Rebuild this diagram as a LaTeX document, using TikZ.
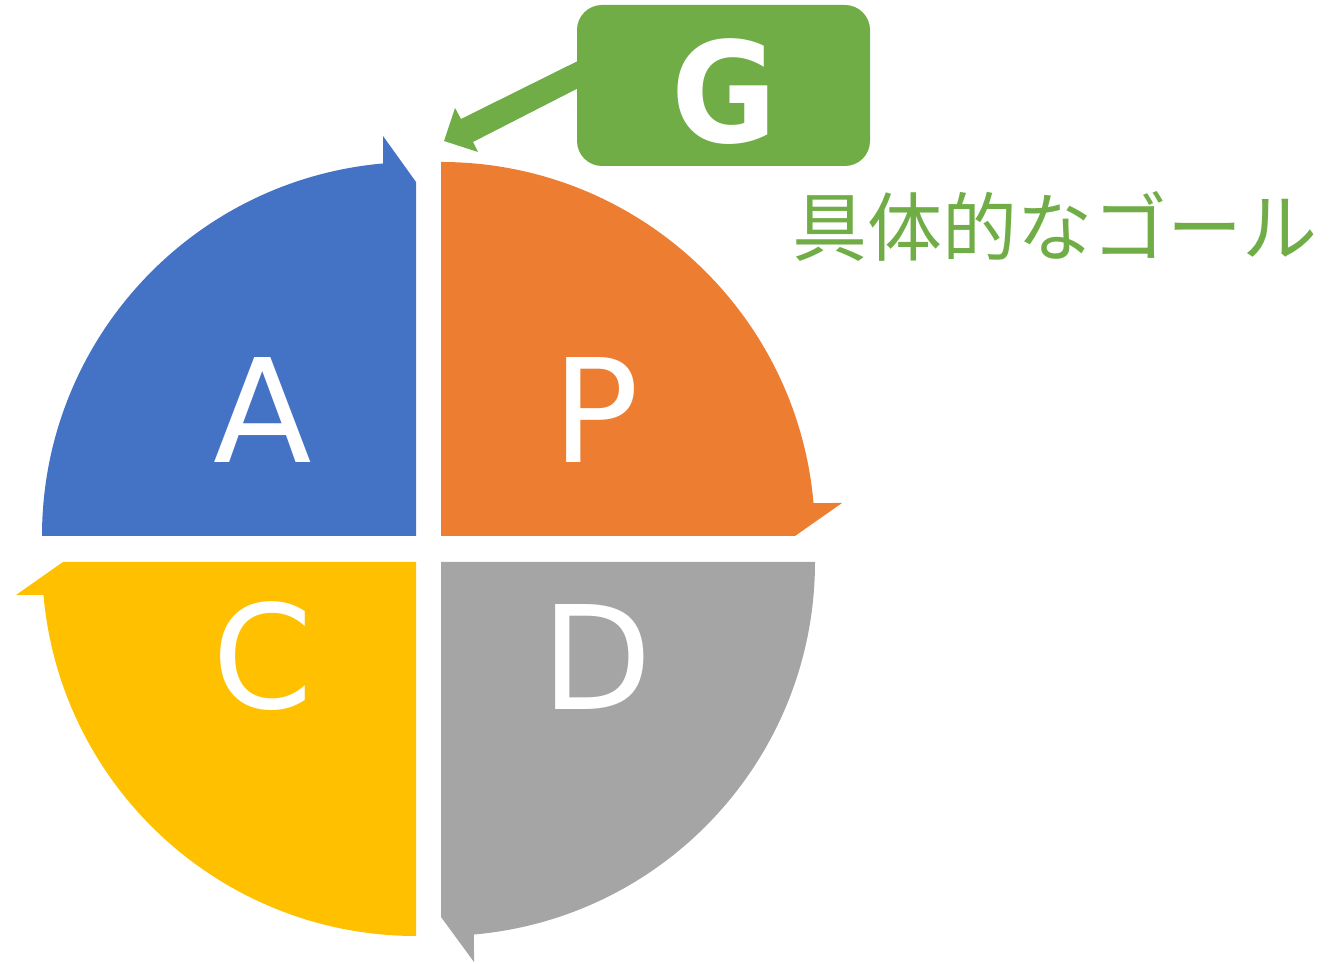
\documentclass[tikz,border=0pt]{standalone}
\usepackage{fontspec}
\setmainfont{DejaVu Sans}
\newfontfamily\jpfont{Noto Sans CJK JP}
\newfontfamily\gfont[FakeStretch=0.92]{DejaVu Sans Bold}
\definecolor{cblue}{HTML}{4472C4}
\definecolor{corange}{HTML}{ED7D31}
\definecolor{cgray}{HTML}{A5A5A5}
\definecolor{cyellow}{HTML}{FFC000}
\definecolor{cgreen}{HTML}{70AD47}
\begin{document}
\begin{tikzpicture}[x=1pt,y=1pt,
  letter/.style={text=white,inner sep=0pt,font=\fontsize{144}{144}\selectfont},
  gbox/.style={fill=cgreen,rounded corners=25pt,minimum width=293pt,minimum height=161pt,inner sep=0pt}]
\useasboundingbox (0,0) rectangle (1337,963);
% quadrant arrows
\fill[cblue] (42,427) arc[start angle=180,end angle=95.06,radius=374pt] -- (383,827) -- (416,781) -- (416,427) -- cycle;
\fill[corange] (441,801) arc[start angle=90,end angle=5.06,radius=374pt] -- (842,460) -- (795,427) -- (441,427) -- cycle;
\fill[cgray] (815,401) arc[start angle=0,end angle=-84.94,radius=374pt] -- (474,1) -- (441,46) -- (441,401) -- cycle;
\fill[cyellow] (416,27) arc[start angle=270,end angle=185.06,radius=374pt] -- (16,368) -- (63,401) -- (416,401) -- cycle;
% letters
\node[letter] (a) at (263,553) {A};
\node[letter] (p) at (596,553) {P};
\node[letter] (c) at (263,307) {C};
\node[letter] (d) at (597,306) {D};
% goal box and arrow
\fill[cgreen] (600,913) -- (461,844) -- (455,855) -- (444,822) -- (478,811) -- (473,821) -- (600,886) -- cycle;
\node[gbox] (gb) at (723.5,877.5) {};
\node[text=white,inner sep=0pt,font=\gfont\fontsize{140}{140}\selectfont] (g) at (724,871) {G};
\node[text=cgreen,inner sep=0pt,font=\jpfont\fontsize{75}{75}\selectfont] (goal) at (1055,737) {具体的なゴール};
\end{tikzpicture}
\end{document}
